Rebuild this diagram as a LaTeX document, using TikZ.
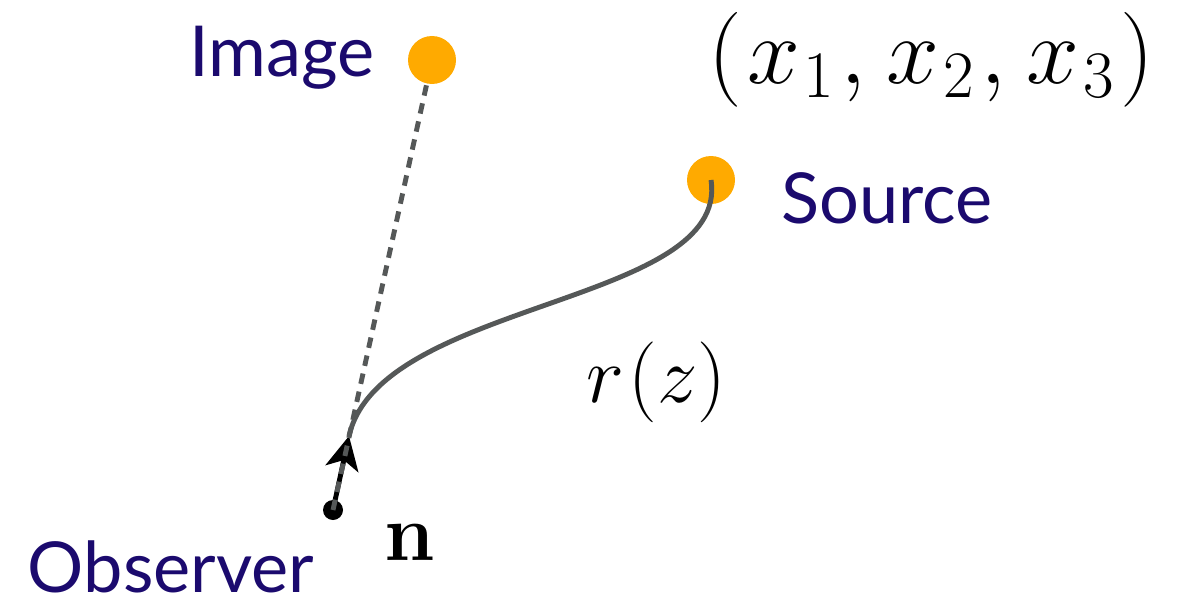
\documentclass[tikz,border=0pt]{standalone}
\usepackage{fix-cm}
\usepackage[no-math]{fontspec}
\setmainfont{Lato}
\usetikzlibrary{arrows.meta}
\definecolor{lbl}{RGB}{27,10,110}
\definecolor{dotor}{RGB}{255,170,0}
\definecolor{ln}{RGB}{85,88,88}
\begin{document}
\begin{tikzpicture}[x=0.02cm,y=-0.02cm,
  lab/.style={text=lbl,font=\fontsize{40}{48}\selectfont,inner sep=0pt},
  mlab/.style={font=\fontsize{46}{54}\selectfont,inner sep=0pt},
  orb/.style={circle,fill=dotor,minimum size=48*0.02cm,inner sep=0pt},
  obs/.style={circle,fill=black,minimum size=20*0.02cm,inner sep=0pt}]
\useasboundingbox (0,0) rectangle (1186,608);
\node[orb] (img) at (432,60) {};
\node[orb] (src) at (711,180) {};
\node[obs] (o) at (333,510) {};
\coordinate (tip) at (349,436);
\node[lab] (limg) at (282,58) {Image};
\node[lab] (lsrc) at (887,198) {Source};
\node[lab] (lobs) at (171,567) {Observer};
\node[mlab] (ln) at (410,543) {$\mathbf{n}$};
\node[mlab,font=\fontsize{54}{62}\selectfont] (lx) at (931,60) {$(\mkern1mu x_{\mkern1mu 1}\mkern1mu,\mkern1mu x_{\mkern1mu 2}\mkern1mu,\mkern1mu x_{\mkern1mu 3}\mkern1mu)$};
\node[mlab] (lr) at (656,382) {$r\mkern1mu(z)$};
\draw[ln,line width=2.8pt] (tip) .. controls (380,300) and (730,305) .. (src.center);
\draw[black,line width=2.8pt,-{Stealth[length=19pt,width=19pt,inset=5pt]}] (o.center) -- (tip);
\draw[ln,line width=2.8pt,dash pattern=on 6pt off 4.5pt] (o.center) -- (img);
\end{tikzpicture}
\end{document}
